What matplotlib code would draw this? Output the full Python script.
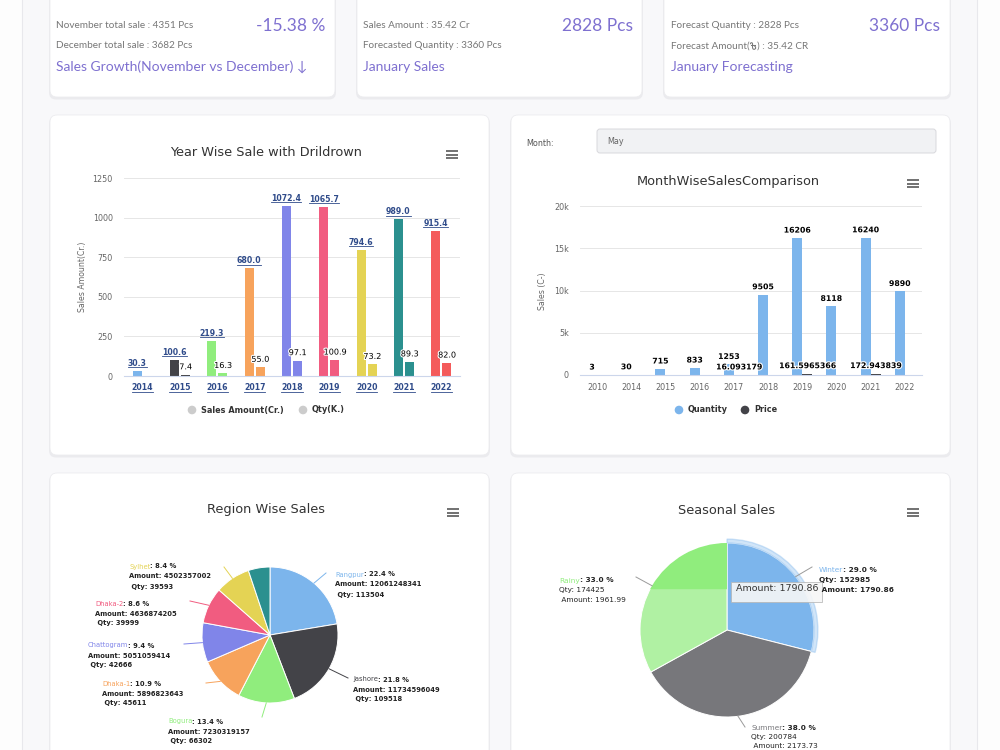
import numpy as np
import matplotlib.pyplot as plt
from matplotlib.patches import FancyBboxPatch, Rectangle, Wedge, Circle
from matplotlib.lines import Line2D
import matplotlib.patheffects as pe

plt.rcParams['font.family'] = ['DejaVu Sans']

W, H = 1000, 750

# ---- data ----
nov_total = 4351
dec_total = 3682
jan_amount_cr = 35.42
jan_qty = 2828
jan_forecast_qty = 3360

years = ['2014', '2015', '2016', '2017', '2018', '2019', '2020', '2021', '2022']
sales_amount = [30.3, 100.6, 219.3, 680.0, 1072.4, 1065.7, 794.6, 989.0, 915.4]
sales_qty = [np.nan, 7.4, 16.3, 55.0, 97.1, 100.9, 73.2, 89.3, 82.0]

month_years = ['2010', '2014', '2015', '2016', '2017', '2018', '2019', '2020', '2021', '2022']
month_qty = [3, 30, 715, 833, 1253, 9505, 16206, 8118, 16240, 9890]
month_price = [np.nan, np.nan, np.nan, np.nan, 16.093179, np.nan, 161.5965366, np.nan, 172.943839, np.nan]

regions = ['Rangpur', 'Jashore', 'Bogura', 'Dhaka-1', 'Chattogram', 'Dhaka-2', 'Sylhet', '']
region_amount = [12061248341, 11734596049, 7230319157, 5896823643, 5051059414, 4636874205, 4502357002, 2770000000]
region_qty = [113504, 109518, 66302, 45611, 42666, 39999, 39593, None]

seasons = ['Winter', 'Summer', 'Rainy']
season_qty = [152985, 200784, 174425]
season_amount = [1790.86, 2173.73, 1961.99]

HC = ['#7cb5ec', '#434348', '#90ed7d', '#f7a35c', '#8085e9', '#f15c80', '#e4d354', '#2b908f', '#f45b5b']
PURPLE = '#7e70d0'
DRILL = '#2f4b8a'
CARD_FONT = ['Lato', 'DejaVu Sans']

fig = plt.figure(figsize=(W / 100, H / 100), dpi=100, facecolor='#fdfdfd')
bg = fig.add_axes([0, 0, 1, 1])
bg.set_xlim(0, W)
bg.set_ylim(H, 0)
bg.axis('off')
renderer = fig.canvas.get_renderer()


def px_axes(x0, y0, x1, y1, **kw):
    return fig.add_axes([x0 / W, 1 - y1 / H, (x1 - x0) / W, (y1 - y0) / H], **kw)


def right_edge(ax, t):
    bb = t.get_window_extent(renderer)
    return ax.transData.inverted().transform((bb.x1, bb.y0))[0]


# page container
bg.add_patch(Rectangle((22, -5), 955, H + 10, fc='#f8f8fa', ec='#e8e8ec', lw=0.8))


def card(x0, y0, x1, y1):
    bg.add_patch(FancyBboxPatch((x0 - 1, y0 + 1.5), x1 - x0 + 2, y1 - y0 + 1,
                                boxstyle='round,pad=0,rounding_size=7',
                                fc='#e6e6ea', ec='none', alpha=0.7))
    bg.add_patch(FancyBboxPatch((x0, y0), x1 - x0, y1 - y0,
                                boxstyle='round,pad=0,rounding_size=7',
                                fc='white', ec='#ececef', lw=0.6))


for box in [(50, -10, 335, 97), (357, -10, 642, 97), (664, -10, 950, 97),
            (50, 115, 489, 455), (511, 115, 950, 455),
            (50, 473, 489, 770), (511, 473, 950, 770)]:
    card(*box)

# ---- top cards ----
growth = (dec_total - nov_total) / nov_total * 100
cards = [
    (56, 325, f'November total sale : {nov_total} Pcs', f'December total sale : {dec_total} Pcs',
     f'{growth:.2f} %', 'Sales Growth(November vs December) \u2193'),
    (363, 633, f'Sales Amount : {jan_amount_cr} Cr', f'Forecasted Quantity : {jan_forecast_qty} Pcs',
     f'{jan_qty} Pcs', 'January Sales'),
    (671, 940, f'Forecast Quantity : {jan_qty} Pcs', None,
     f'{jan_forecast_qty} Pcs', 'January Forecasting'),
]
for xl, xr, l1, l2, big, title in cards:
    bg.text(xl, 25, l1, fontsize=7.2, color='#777777', va='center', family=CARD_FONT)
    if l2:
        bg.text(xl, 46, l2, fontsize=7.2, color='#777777', va='center', family=CARD_FONT)
    bg.text(xr, 26, big, fontsize=12.5, color=PURPLE, va='center', ha='right', family=CARD_FONT)
    bg.text(xl, 67, title, fontsize=10, color=PURPLE, va='center', family=CARD_FONT)

# "Forecast Amount(৳) : 35.42 CR" - no installed font has the taka sign, so it is drawn as a shape
t = bg.text(671, 46, 'Forecast Amount(', fontsize=7.2, color='#777777', va='center', family=CARD_FONT)
tx = right_edge(bg, t) + 0.6
taka = np.array([[0.0, -2.2], [0.6, -3.2], [1.6, -3.3], [2.2, -2.4], [2.2, 2.0], [2.9, 3.2],
                 [4.3, 3.3], [5.3, 2.3], [5.2, 0.9], [4.4, 0.3]])
bg.plot(tx + taka[:, 0], 46 + taka[:, 1], color='#777777', lw=0.75, solid_capstyle='round')
bg.plot([tx + 0.3, tx + 4.6], [46 - 0.9, 46 - 0.9], color='#777777', lw=0.75)
bg.text(tx + 6.2, 46, f') : {jan_amount_cr} CR', fontsize=7.2, color='#777777', va='center', family=CARD_FONT)


def hamburger(x0, y0):
    for dy in (0, 3.5, 7):
        bg.plot([x0, x0 + 12], [y0 + dy, y0 + dy], color='#666666', lw=1.3, solid_capstyle='butt')


def style_bar_axes(ax):
    ax.set_facecolor('none')
    for s in ax.spines.values():
        s.set_visible(False)
    ax.spines['bottom'].set_visible(True)
    ax.spines['bottom'].set_color('#ccd6eb')
    ax.spines['bottom'].set_linewidth(0.8)
    ax.grid(axis='y', color='#e6e6e6', lw=0.7)
    ax.set_axisbelow(True)
    ax.tick_params(length=0, labelsize=5.8, colors='#666666')
    ax.tick_params(axis='y', pad=8)


underline = []
TITLE_FS = 9.3

# ---- Year wise chart ----
bg.text(266, 152, 'Year Wise Sale with Drildrown', fontsize=TITLE_FS, color='#333333', ha='center', va='center')
hamburger(446, 151)
ax1 = px_axes(124, 178, 460, 376)
x = np.arange(len(years))
ax1.bar(x - 0.15, sales_amount, 0.24, color=HC)
ax1.bar(x + 0.15, sales_qty, 0.24, color=HC)
ax1.set_xlim(-0.5, len(years) - 0.5)
ax1.set_ylim(0, 1250)
ax1.set_yticks([0, 250, 500, 750, 1000, 1250])
ax1.set_xticks(x)
ax1.set_xticklabels(years)
style_bar_axes(ax1)
ax1.tick_params(axis='x', pad=5, labelsize=5.6, colors=DRILL)
for lab in ax1.get_xticklabels():
    lab.set_fontweight('bold')
    underline.append(lab)
for xi, v in zip(x, sales_amount):
    t = ax1.annotate(f'{v:.1f}', (xi - 0.15, v), xytext=(0, 2.5), textcoords='offset points',
                     ha='center', va='bottom', fontsize=5.6, fontweight='bold', color=DRILL)
    underline.append(t)
for xi, v in zip(x, sales_qty):
    if np.isnan(v):
        continue
    ax1.annotate(f'{v:.1f}', (xi + 0.15, v), xytext=(0, 2.5), textcoords='offset points',
                 ha='center', va='bottom', fontsize=5.8, color='black',
                 path_effects=[pe.withStroke(linewidth=1.6, foreground='white')])
bg.text(82, 277, 'Sales Amount(Cr.)', rotation=90, fontsize=5.6, color='#666666', ha='center', va='center')
bg.add_patch(Circle((192, 410), 3.6, color='#cccccc'))
bg.text(201, 410, 'Sales Amount(Cr.)', fontsize=5.9, fontweight='bold', color='#333333', va='center')
bg.add_patch(Circle((303, 410), 3.6, color='#cccccc'))
bg.text(312, 410, 'Qty(K.)', fontsize=5.9, fontweight='bold', color='#333333', va='center')

# ---- Month wise chart ----
bg.text(526, 143, 'Month:', fontsize=5.8, color='#555555', va='center')
bg.add_patch(FancyBboxPatch((597, 129), 339, 24, boxstyle='round,pad=0,rounding_size=3',
                            fc='#f1f2f4', ec='#d8d8dc', lw=0.7))
bg.text(607, 141, 'May', fontsize=5.8, color='#666666', va='center')
bg.text(728, 181, 'MonthWiseSalesComparison', fontsize=TITLE_FS, color='#333333', ha='center', va='center')
hamburger(907, 180)
ax2 = px_axes(580, 206, 922, 375)
x2 = np.arange(len(month_years))
ax2.bar(x2 - 0.15, month_qty, 0.29, color=HC[0])
ax2.bar(x2 + 0.15, month_price, 0.29, color=HC[1])
ax2.set_xlim(-0.5, len(month_years) - 0.5)
ax2.set_ylim(0, 20000)
ax2.set_yticks([0, 5000, 10000, 15000, 20000])
ax2.set_yticklabels(['0', '5k', '10k', '15k', '20k'])
ax2.set_xticks(x2)
ax2.set_xticklabels(month_years)
style_bar_axes(ax2)
ax2.tick_params(axis='x', pad=5.5)
for xi, v in zip(x2, month_qty):
    ax2.annotate(f'{v}', (xi - 0.15, v), xytext=(0, 2.5), textcoords='offset points',
                 ha='center', va='bottom', fontsize=5.6, fontweight='bold', color='black',
                 path_effects=[pe.withStroke(linewidth=1.6, foreground='white')])
for xi, v in zip(x2, month_price):
    if np.isnan(v):
        continue
    ax2.annotate(f'{v}', (xi + 0.15, v), xytext=(0, 2.5), textcoords='offset points',
                 ha='center', va='bottom', fontsize=5.6, fontweight='bold', color='black',
                 path_effects=[pe.withStroke(linewidth=1.6, foreground='white')])
bg.text(542, 291, 'Sales (C-)', rotation=90, fontsize=5.6, color='#666666', ha='center', va='center')
bg.add_patch(Circle((679, 410), 3.6, color=HC[0]))
bg.text(688, 410, 'Quantity', fontsize=5.9, fontweight='bold', color='#333333', va='center')
bg.add_patch(Circle((745, 410), 3.6, color=HC[1]))
bg.text(754, 410, 'Price', fontsize=5.9, fontweight='bold', color='#333333', va='center')

# ---- pies ----
bg.text(266, 510, 'Region Wise Sales', fontsize=TITLE_FS, color='#333333', ha='center', va='center')
hamburger(447, 509)
bg.text(727, 510, 'Seasonal Sales', fontsize=TITLE_FS, color='#333333', ha='center', va='center')
hamburger(907, 509)


def pie_axes(cx, cy, r):
    ax = px_axes(cx - 1.1 * r, cy - 1.1 * r, cx + 1.1 * r, cy + 1.1 * r)
    ax.axis('off')
    return ax


axr = pie_axes(270, 635, 68)
wr, _ = axr.pie(region_amount, colors=HC[:8], startangle=90, counterclock=False,
                wedgeprops=dict(edgecolor='white', linewidth=0.7))
axr.set_xlim(-1.1, 1.1)
axr.set_ylim(-1.1, 1.1)

season_colors = ['#7cb5ec', '#77777b', '#b0f1a3']
axs = pie_axes(727, 630, 87)
ws, _ = axs.pie(season_qty, colors=season_colors, startangle=90, counterclock=False,
                wedgeprops=dict(edgecolor='white', linewidth=0.7))
axs.set_xlim(-1.1, 1.1)
axs.set_ylim(-1.1, 1.1)
# hover halo on winter slice
axs.add_patch(Wedge((0, 0), 1.045, ws[0].theta1, ws[0].theta2, width=0.045, color=HC[0], alpha=0.35))
# darker band of rainy slice (screen capture)
ycut = axs.transData.inverted().transform(bg.transData.transform((727, 588)))[1]
band = Rectangle((-1.1, ycut), 2.2, 1.2, color='#90ed7d')
axs.add_patch(band)
band.set_clip_path(ws[2])

ov = fig.add_axes([0, 0, 1, 1], zorder=5)
ov.set_xlim(0, W)
ov.set_ylim(H, 0)
ov.axis('off')


def edge_px(ax, w):
    th = np.deg2rad((w.theta1 + w.theta2) / 2)
    d = ax.transData.transform((np.cos(th) * w.r, np.sin(th) * w.r))
    return ov.transData.inverted().transform(d)


def pie_label(x, y, name, color, rest, extra, size, extra_bold, step):
    t = ov.text(x, y, name, color=color, fontsize=size, va='center_baseline')
    ov.text(right_edge(ov, t), y, rest, fontsize=size, fontweight='bold', color='#222222',
            va='center_baseline')
    for k, line in enumerate(extra):
        ov.text(x, y + step * (k + 1), line, fontsize=size, color='#222222',
                fontweight='bold' if extra_bold else 'normal', va='center_baseline')


# region labels
region_lab_pos = [(335, 574), (353, 679), (168, 721), (102, 683), (88, 645), (95, 603), (129, 566)]
region_conn_end = [(326, 573), (348, 678), (262, 717), (206, 683), (184, 644), (190, 601), (224, 567)]
rtot = sum(region_amount)
for i, name in enumerate(regions):
    if not name:
        continue
    ex, ey = edge_px(axr, wr[i])
    qx, qy = region_conn_end[i]
    ov.plot([ex, qx], [ey, qy], color=HC[i], lw=0.7)
    lx, ly = region_lab_pos[i]
    pie_label(lx, ly, name, HC[i], f': {region_amount[i] / rtot * 100:.1f} %',
              [f'Amount: {region_amount[i]}', f' Qty: {region_qty[i]}'], 4.9, True, 10)

# tooltip, its text cut at the top as in the screen capture
tip = Rectangle((731, 582), 91, 20, fc='#f7f7f7', ec='#b5b5b5', lw=0.6, alpha=0.9)
ov.add_patch(tip)
tip_clip = Rectangle((731, 586), 91, 16, fc='none', ec='none')
ov.add_patch(tip_clip)
tt = ov.text(736, 591, f'Amount: {season_amount[0]}', fontsize=6.8, color='#333333', va='baseline')
tt.set_clip_path(tip_clip)

season_lab_pos = [(819, 570), (751, 727), (559, 580)]
season_conn_end = [(812, 567), (745, 727), (636, 577)]
season_name_col = [HC[0], '#77777b', '#90ed7d']
stot = sum(season_qty)
for i, name in enumerate(seasons):
    ex, ey = edge_px(axs, ws[i])
    qx, qy = season_conn_end[i]
    ov.plot([ex, qx], [ey, qy], color='#9a9a9a', lw=0.7)
    lx, ly = season_lab_pos[i]
    pie_label(lx, ly, name, season_name_col[i], f': {season_qty[i] / stot * 100:.1f} %',
              [f'Qty: {season_qty[i]}', f' Amount: {season_amount[i]}'], 5.3, i == 0, 9.5)

# underline drilldown labels
fig.canvas.draw()
renderer = fig.canvas.get_renderer()
for t in underline:
    bb = t.get_window_extent(renderer)
    yy = (bb.y0 + 0.3) / H
    fig.add_artist(Line2D([bb.x0 / W, bb.x1 / W], [yy, yy], color=DRILL, lw=0.6))

fig.savefig('out.png', dpi=100, facecolor=fig.get_facecolor())
